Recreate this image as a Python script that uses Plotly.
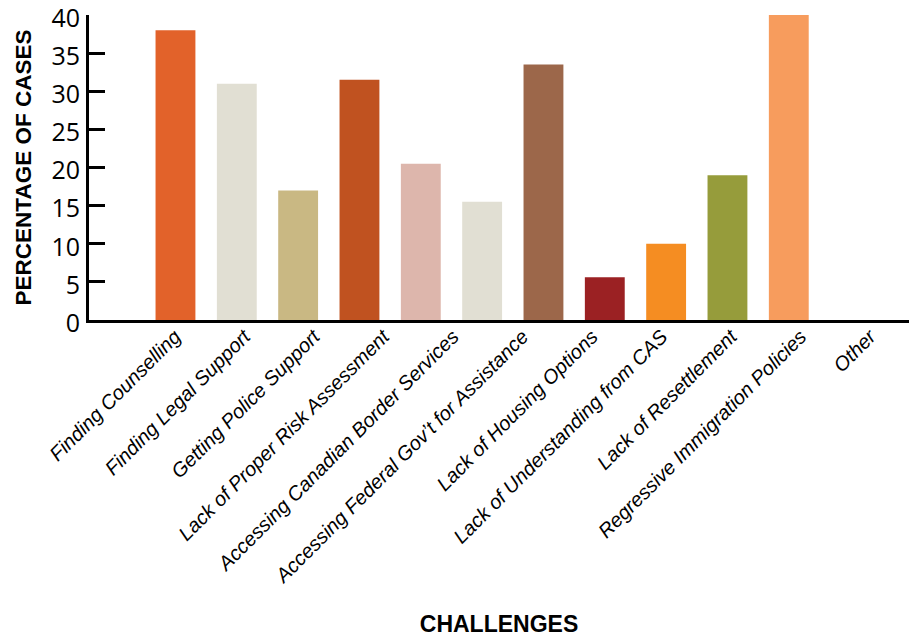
import plotly.graph_objects as go

categories = [
    "Finding Counselling",
    "Finding Legal Support",
    "Getting Police Support",
    "Lack of Proper Risk Assessment",
    "Accessing Canadian Border Services",
    "Accessing Federal Gov\u2019t for Assistance",
    "Lack of Housing Options",
    "Lack of Understanding from CAS",
    "Lack of Resettlement",
    "Regressive Immigration Policies",
    "Other",
]
percentages = [38.0, 31.0, 17.0, 31.5, 20.5, 15.5, 33.5, 5.6, 10.0, 19.0, 40.0]
bar_colors = [
    "#E2622A", "#E1DFD3", "#C9B883", "#C05220", "#DDB6AC", "#E1DFD3",
    "#9C674A", "#9B2123", "#F58D22", "#969C3B", "#F79C5D",
]
y_ticks = [0, 5, 10, 15, 20, 25, 30, 35, 40]

fig = go.Figure()
fig.add_trace(
    go.Bar(
        x=categories,
        y=percentages,
        marker=dict(color=bar_colors, line=dict(width=0)),
        hoverinfo="x+y",
    )
)
# invisible companion trace carrying the (more widely spread) category labels
fig.add_trace(
    go.Scatter(
        x=categories,
        y=percentages,
        xaxis="x2",
        mode="markers",
        marker=dict(opacity=0),
        hoverinfo="skip",
    )
)

fig.update_layout(
    width=909,
    height=637,
    margin=dict(l=89, r=0, t=15, b=317),
    paper_bgcolor="white",
    plot_bgcolor="white",
    showlegend=False,
    bargap=0.35,
    xaxis=dict(
        type="category",
        range=[-1.41, 11.96],
        showline=True,
        linecolor="black",
        linewidth=3,
        showgrid=False,
        ticks="",
        showticklabels=False,
        automargin=False,
    ),
    xaxis2=dict(
        type="category",
        overlaying="x",
        side="bottom",
        anchor="y",
        range=[-1.237, 10.561],
        showline=False,
        showgrid=False,
        zeroline=False,
        ticks="",
        tickangle=-45,
        tickfont=dict(family="Liberation Sans, Arial, sans-serif", size=20,
                      color="black", style="italic"),
        title=dict(
            text="<b>CHALLENGES</b>",
            font=dict(family="Liberation Sans, Arial, sans-serif", size=23, color="black"),
            standoff=29,
        ),
        automargin=False,
    ),
    yaxis=dict(
        range=[0, 40],
        tickvals=y_ticks,
        showline=True,
        linecolor="black",
        linewidth=3,
        showgrid=False,
        zeroline=False,
        ticks="inside",
        ticklen=16,
        tickwidth=3,
        tickcolor="black",
        ticklabelstandoff=1,
        ticklabelshift=3,
        ticklabeloverflow="allow",
        tickfont=dict(family="Open Sans, sans-serif", size=25, color="black"),
        title=dict(
            text="<b>PERCENTAGE OF CASES</b>",
            font=dict(family="Liberation Sans, Arial, sans-serif", size=22.5, color="black"),
            standoff=14,
        ),
        automargin=False,
    ),
)

fig.write_html(
    "out.html",
    config={"displayModeBar": False},
    post_script="document.body.style.margin='0';document.body.style.overflow='hidden';",
)
